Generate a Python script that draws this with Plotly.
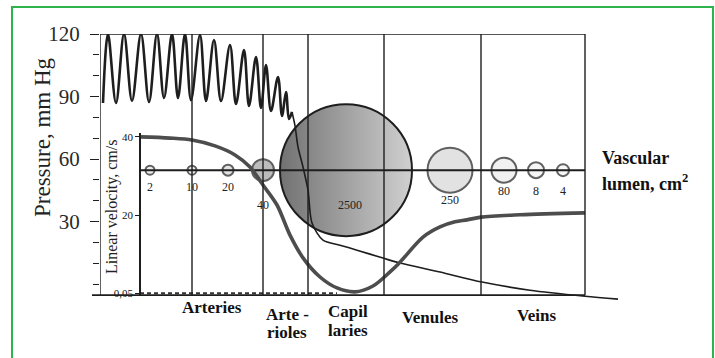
import plotly.graph_objects as go

# ---------------- data ----------------
# boundaries between vessel segments (position along vascular bed)
SEGMENT_EDGES = [92, 163, 208, 284, 381, 485]
CATEGORIES = ["Arteries", "Arte -\nrioles", "Capil\nlaries", "Venules", "Veins"]

# blood pressure, mm Hg (pulsating part then mean decline)
PRESSURE_X = [3, 8, 16, 24, 32, 41, 49, 57, 64, 72, 78, 85, 91, 100, 106, 114, 121, 130,
              136, 144, 149, 156, 161, 166, 171, 178, 182, 186, 189, 192,
              195, 198, 203, 208, 212, 223, 240, 257, 283, 300, 340, 382, 430, 485, 518]
PRESSURE_Y = [86.9, 120, 86.9, 120, 87.9, 120, 87.4, 120, 89.3, 120, 89.3, 120, 88.3, 119.5,
              87.9, 117.1, 87.9, 114.7, 86.4, 112.3, 85.5, 109.0, 84.5, 105.1, 83.1, 99.4,
              80.7, 92.2, 79.2, 82.6,
              76.0, 65.8, 56.2, 45.1, 29.3, 21.1, 18.7, 16.3, 12.5, 10.1, 5.8, 1.0, -2.9, -5.8, -7.2]
PULSE_END_X = 192

# linear velocity, cm/s
VELOCITY_X = [40, 70, 92, 115, 135, 150, 163, 177, 190, 203, 220, 237, 255, 273, 290, 300,
              323, 340, 355, 367, 381, 420, 485]
VELOCITY_Y = [40.0, 39.7, 39.2, 37.7, 35.4, 32.3, 27.7, 22.6, 14.9, 9.1, 4.2, 1.4, 0.4, 1.9,
              5.5, 8.0, 14.4, 17.0, 18.3, 18.8, 19.5, 20.1, 20.6]
VELOCITY_AXIS_X = 40
VELOCITY_TICKS = [0.05, 20, 40]
VELOCITY_TICK_TEXT = ["0,05", "20", "40"]

# total vascular lumen, cm^2
LUMEN_AREA = [2, 10, 20, 40, 2500, 250, 80, 8, 4]
LUMEN_X = [50, 92, 128, 163, 246, 350, 404, 436, 463]

PRESSURE_TICKS = [30, 60, 90, 120]

# ---------------- styling / layout ----------------
SERIF = "Liberation Serif, Times New Roman, serif"
INK = "#1e1e1e"
Y_MIN, Y_MAX = -7.6, 120
BASE = -5.3
LUMEN_LEVEL = 54.7
X_MAX = 520
W, H = 715, 358
L, T, B = 100, 34, 58
PLOT_H = H - T - B

LUMEN_SIZE = [9, 9, 11, 22, 132, 45, 25, 16, 12]
LUMEN_FILL = ["#e4e4e4", "#e4e4e4", "#d8d8d8", "#a0a0a0", "#c9c9c9", "#d6d6d6", "#ececec", "#f1f1f1", "#f4f4f4"]
LUMEN_LABEL_SHIFT = [-17, -17, -17, -35, -35, -30, -21, -21, -21]
LUMEN_LABEL_XSHIFT = [0, 0, 0, 0, 4, 0, 0, 0, 0]
CAT_LABEL_X = [212, 287, 348, 430, 536]
CAT_LABEL_Y = [[307], [314, 332], [312, 330], [317], [315]]


def px(xp):
    return (xp - L) / X_MAX


def py(yp):
    return (H - B - yp) / PLOT_H


fig = go.Figure()

# lumen circles (big one with shading)
big = LUMEN_AREA.index(max(LUMEN_AREA))
small_idx = [i for i in range(len(LUMEN_AREA)) if i != big]
fig.add_trace(go.Scatter(
    x=[LUMEN_X[i] for i in small_idx], y=[LUMEN_LEVEL] * len(small_idx),
    mode="markers",
    marker=dict(size=[LUMEN_SIZE[i] for i in small_idx], color=[LUMEN_FILL[i] for i in small_idx],
                line=dict(color=INK, width=2)),
    hoverinfo="skip", showlegend=False))
fig.add_trace(go.Scatter(
    x=[LUMEN_X[big]], y=[LUMEN_LEVEL], mode="markers",
    marker=dict(size=LUMEN_SIZE[big], color="#727272",
                gradient=dict(type="horizontal", color="#d0d0d0"),
                line=dict(color=INK, width=2)),
    hoverinfo="skip", showlegend=False))

# lumen axis line
fig.add_trace(go.Scatter(
    x=[VELOCITY_AXIS_X, SEGMENT_EDGES[-1]], y=[LUMEN_LEVEL, LUMEN_LEVEL], mode="lines",
    line=dict(color=INK, width=2), hoverinfo="skip", showlegend=False))

# pressure curve
k = PRESSURE_X.index(PULSE_END_X)
fig.add_trace(go.Scatter(
    x=PRESSURE_X[:k + 1], y=PRESSURE_Y[:k + 1], mode="lines",
    line=dict(color=INK, width=2.6, shape="spline", smoothing=1.0),
    hoverinfo="skip", showlegend=False))
fig.add_trace(go.Scatter(
    x=PRESSURE_X[k:], y=PRESSURE_Y[k:], mode="lines",
    line=dict(color=INK, width=1.6, shape="spline", smoothing=0.8),
    hoverinfo="skip", showlegend=False))

# velocity curve on its own axis
slow_end = VELOCITY_X[next(i for i, v in enumerate(VELOCITY_Y) if v < 2)]
fig.add_trace(go.Scatter(
    x=[VELOCITY_AXIS_X, slow_end], y=[VELOCITY_TICKS[0]] * 2, yaxis="y2", mode="lines",
    line=dict(color="#333333", width=2.2, dash="4px,3px"), hoverinfo="skip", showlegend=False))
fig.add_trace(go.Scatter(
    x=VELOCITY_X, y=VELOCITY_Y, yaxis="y2", mode="lines",
    line=dict(color="#4d4d4d", width=3.6, shape="spline", smoothing=0.9),
    hoverinfo="skip", showlegend=False))

# frame
shapes = []
for e in [0] + SEGMENT_EDGES:
    shapes.append(dict(type="line", xref="x", yref="y", x0=e, x1=e, y0=BASE, y1=Y_MAX,
                       line=dict(color=INK, width=1.4), layer="above"))
shapes.append(dict(type="line", xref="x", yref="y", x0=0, x1=SEGMENT_EDGES[-1], y0=Y_MAX, y1=Y_MAX,
                   line=dict(color=INK, width=1.6), layer="above"))
shapes.append(dict(type="line", xref="paper", yref="y", x0=-8 / X_MAX, x1=SEGMENT_EDGES[-1] / X_MAX,
                   y0=BASE, y1=BASE, line=dict(color=INK, width=1.8), layer="above"))
shapes.append(dict(type="rect", xref="paper", yref="paper", x0=px(12), x1=px(713), y0=py(364), y1=py(7),
                   line=dict(color="#2fb34d", width=2), fillcolor="rgba(0,0,0,0)", layer="below"))

CENTER = dict(xanchor="center", yanchor="middle", showarrow=False)
ann = []
ann.append(dict(text="Pressure, mm Hg", xref="paper", yref="paper", x=px(42), y=py(137),
                textangle=-90, font=dict(family=SERIF, size=23, color="#222"), **CENTER))
ann.append(dict(text="Linear velocity, cm/s", xref="paper", yref="paper", x=px(112), y=py(207),
                textangle=-90, font=dict(family=SERIF, size=16, color="#222"), **CENTER))
for lab, xc, ys in zip(CATEGORIES, CAT_LABEL_X, CAT_LABEL_Y):
    for line, yc in zip(lab.split("\n"), ys):
        ann.append(dict(text="<b>" + line + "</b>", xref="paper", yref="paper", x=px(xc), y=py(yc),
                        font=dict(family=SERIF, size=17, color="#111"), **CENTER))
ann.append(dict(text="<b>Vascular</b>", xref="paper", yref="paper", x=px(600), y=py(158),
                xanchor="left", yanchor="middle", showarrow=False,
                font=dict(family=SERIF, size=18, color="#111")))
ann.append(dict(text="<b>lumen, cm<sup>2</sup></b>", xref="paper", yref="paper", x=px(600), y=py(182),
                xanchor="left", yanchor="middle", showarrow=False,
                font=dict(family=SERIF, size=18, color="#111")))
for a, xv, ys, xs in zip(LUMEN_AREA, LUMEN_X, LUMEN_LABEL_SHIFT, LUMEN_LABEL_XSHIFT):
    ann.append(dict(text=str(a), xref="x", yref="y", x=xv, y=LUMEN_LEVEL, yshift=ys, xshift=xs,
                    font=dict(family=SERIF, size=12, color="#222"), **CENTER))

fig.update_layout(
    width=W, height=H,
    margin=dict(l=L, r=W - L - X_MAX, t=T, b=B, pad=0),
    paper_bgcolor="white", plot_bgcolor="rgba(0,0,0,0)",
    showlegend=False,
    xaxis=dict(range=[0, X_MAX], visible=False, fixedrange=True),
    yaxis=dict(range=[Y_MIN, Y_MAX], showline=False, showgrid=False, zeroline=False,
               tickvals=PRESSURE_TICKS, ticks="outside", ticklen=9, tickwidth=1.4, tickcolor=INK,
               ticklabelstandoff=6,
               minor=dict(tick0=0, dtick=10, ticks="outside", ticklen=6, tickwidth=1.2, tickcolor=INK),
               tickfont=dict(family=SERIF, size=21, color="#2a2a2a")),
    yaxis2=dict(domain=[py(295), py(133)], range=[-0.4, 41], anchor="free", position=VELOCITY_AXIS_X / X_MAX,
                showline=True, linecolor=INK, linewidth=1.5, showgrid=False, zeroline=False,
                tickvals=VELOCITY_TICKS, ticktext=VELOCITY_TICK_TEXT, ticks="outside", ticklen=4,
                tickcolor=INK, tickfont=dict(family=SERIF, size=11, color="#111")),
    shapes=shapes, annotations=ann,
)

fig.write_html("out.html", config={"displayModeBar": False},
               post_script="document.body.style.margin='0';")
